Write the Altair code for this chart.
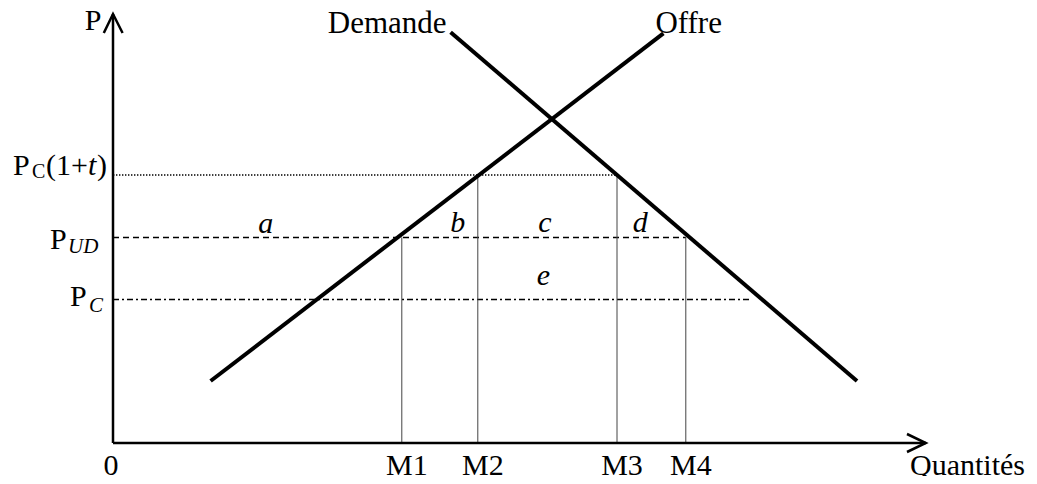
import altair as alt
import pandas as pd

FONT = "Liberation Serif"

# ---------------- data (quantity q, price p) ----------------
offre_q = [1.22, 6.88]
offre_p = [1.55, 10.24]
demande_q = [4.22, 9.30]
demande_p = [10.27, 1.55]

price_names = ["PC(1+t)", "PUD", "PC"]
price_values = [6.70, 5.14, 3.59]
price_line_end = [6.30, 7.16, 7.98]

m_labels = ["M1", "M2", "M3", "M4"]
m_values = [3.61, 4.56, 6.30, 7.16]
m_tops = [5.14, 6.70, 6.70, 5.14]

area_letters = ["a", "b", "c", "d", "e"]
letter_q = [1.91, 4.31, 5.40, 6.59, 5.38]
letter_p = [5.25, 5.28, 5.28, 5.28, 3.95]

q_axis_end = 10.16
p_axis_end = 10.725
arrow_x_q = [9.925, 10.16, 9.925]
arrow_x_p = [0.225, 0.0, -0.225]
arrow_y_q = [-0.115, 0.0, 0.12]
arrow_y_p = [10.25, 10.725, 10.25]

# ---------------- tables ----------------
xs = alt.Scale(domain=[0, 10], nice=False, zero=False)
ys = alt.Scale(domain=[0, 10], nice=False, zero=False)


def seg_rows(name, qs, ps):
    return [{"seg": name, "o": i, "q": q, "p": p} for i, (q, p) in enumerate(zip(qs, ps))]


axes_df = pd.DataFrame(
    seg_rows("yaxis", [0, 0], [0, p_axis_end])
    + seg_rows("xaxis", [0, q_axis_end], [0, 0])
    + seg_rows("xarrow", arrow_x_q, arrow_x_p)
    + seg_rows("yarrow", arrow_y_q, arrow_y_p)
)
curves_df = pd.DataFrame(
    seg_rows("Offre", offre_q, offre_p) + seg_rows("Demande", demande_q, demande_p)
)
vert_df = pd.DataFrame(
    sum([seg_rows(m, [v, v], [0, t]) for m, v, t in zip(m_labels, m_values, m_tops)], [])
)


def hline_df(i):
    return pd.DataFrame(seg_rows(price_names[i], [0, price_line_end[i]],
                                 [price_values[i], price_values[i]]))


def pos(ch):
    return ch.encode(
        x=alt.X("q:Q", scale=xs, axis=None),
        y=alt.Y("p:Q", scale=ys, axis=None),
    )


def lines(df, width, dash=None, color="black"):
    kw = dict(color=color, strokeWidth=width, strokeCap="butt")
    if dash is not None:
        kw["strokeDash"] = dash
    return pos(alt.Chart(df).mark_line(**kw)).encode(detail="seg:N", order="o:Q")


def text(df, align="left", size=30, style="normal", dx=0, dy=0):
    return pos(
        alt.Chart(df).mark_text(
            align=align, baseline="alphabetic", font=FONT, fontSize=size,
            fontStyle=style, color="black", dx=dx, dy=dy,
        )
    ).encode(text="t:N")


def one(t, q, p):
    return pd.DataFrame([{"t": t, "q": q, "p": p}])


layers = [
    lines(hline_df(0), 1.4, [1.4, 1.6]),
    lines(hline_df(1), 1.5, [6, 4]),
    lines(hline_df(2), 1.5, [6, 3, 2, 3]),
    lines(vert_df, 1, color="#444"),
    lines(curves_df, 4),
    lines(axes_df, 2.5),
]

# bottom labels
layers.append(text(pd.DataFrame({"t": m_labels, "q": m_values, "p": [0] * 4}),
                   align="center", dx=5, dy=32))
layers.append(text(one("0", 0, 0), align="center", dx=-2, dy=32))
layers.append(text(one("Quantités", 10, 0), align="left", dx=-3, dy=32))
layers.append(text(one("P", 0, 10), align="center", dx=-20, dy=-13))

# curve labels
layers.append(text(one("Demande", demande_q[0], demande_p[0]), align="right",
                   size=31, dx=-4, dy=1))
layers.append(text(one("Offre", offre_q[1], offre_p[1]), align="left",
                   size=31, dx=-8, dy=0))

# area letters
layers.append(text(pd.DataFrame({"t": area_letters, "q": letter_q, "p": letter_p}),
                   align="center", style="italic"))

# price labels (built from pieces: main letter, subscript, etc.)
p0, p1, p2 = price_values
layers += [
    text(one("P", 0, p0), dx=-100, dy=0),
    text(one("C", 0, p0), size=20, dx=-81, dy=3),
    text(one("(1+", 0, p0), dx=-67, dy=0),
    text(one("t", 0, p0), style="italic", dx=-25, dy=0),
    text(one(")", 0, p0), dx=-16, dy=0),
    text(one("P", 0, p1), dx=-63, dy=12),
    text(one("UD", 0, p1), size=21, style="italic", dx=-45, dy=16),
    text(one("P", 0, p2), dx=-43, dy=7),
    text(one("C", 0, p2), size=21, style="italic", dx=-24, dy=13),
]

chart = (
    alt.layer(*layers)
    .properties(
        width=800,
        height=400,
        autosize=alt.AutoSizeParams(type="none"),
        padding={"left": 105, "top": 35, "right": 116, "bottom": 33},
        background="white",
    )
    .configure_view(stroke=None)
)

chart.save("out.html", embed_options={"renderer": "svg", "actions": False})
